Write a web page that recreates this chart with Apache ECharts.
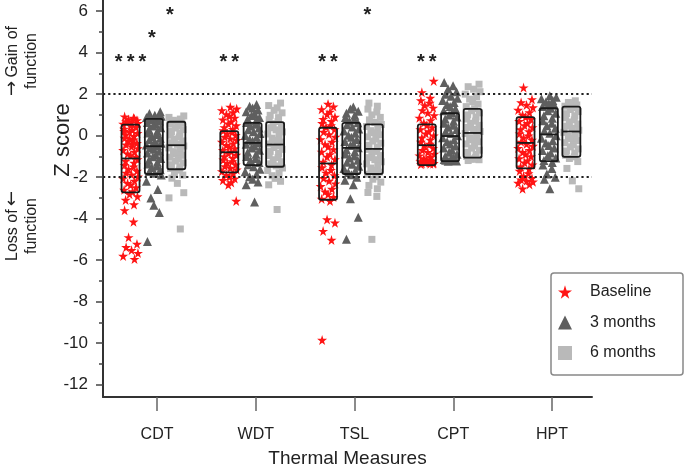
<!DOCTYPE html>
<html>
<head>
<meta charset="utf-8">
<script src="https://cdn.jsdelivr.net/npm/echarts@6/dist/echarts.min.js"></script>
<style>
html,body{margin:0;padding:0;background:#fff;}
#chart{width:685px;height:473px;}
</style>
</head>
<body>
<div id="chart"></div>
<script>
// ---------- data ----------
const categories = ['CDT', 'WDT', 'TSL', 'CPT', 'HPT'];
const groupNames = ['Baseline', '3 months', '6 months'];
const yTickLabels = [-12, -10, -8, -6, -4, -2, 0, 2, 4, 6];
const yMinorTicks = [-11, -9, -7, -5, -3, -1, 1, 3, 5];
const thresholdLines = [2, -2];

// individual Z scores
const cdtBaseline = [0.92, 0.85, 0.78, 0.74, 0.69, 0.63, 0.6, 0.57, 0.81, 0.66,
  0.48, 0.41, 0.33, 0.27, 0.18, 0.12, 0.04, -0.03, -0.11, -0.19, -0.27, -0.36, -0.44, -0.52, -0.61, -0.7, -0.78, -0.87, -0.95, -1.03, 0.22, -0.4, -0.15,
  -1.14, -1.22, -1.31, -1.42, -1.5, -1.61, -1.7, -1.79, -1.88, -1.98, -2.07, -2.18, -2.29, -2.38, -2.5, -2.61, -2.69,
  -2.82, -2.93, -3.1, -3.32, -3.6, -4.15, -4.9, -5.22, -5.38, -5.52, -5.66, -5.8, -5.95];
const cdtMonth3 = [1.15, 1.07, 0.98, 0.93, 0.88, 0.84, 0.82, 0.78, 0.71, 0.64, 0.55, 0.47, 0.38, 0.3, 0.21, 0.13, 0.05, -0.04, -0.12, -0.2, -0.28, -0.37, -0.45, -0.5, -0.58, -0.66, -0.75, -0.84, -0.93, -1.02, -1.1, -1.19, -1.28, -1.37, -1.46, -1.55, -1.64, -1.73, -1.81, -1.9, -2.2, -2.6, -3.0, -3.35, -3.7, -5.1];
const cdtMonth6 = [0.95, 0.88, 0.8, 0.74, 0.69, 0.62, 0.55, 0.46, 0.37, 0.29, 0.2, 0.11, 0.02, -0.07, -0.16, -0.25, -0.34, -0.42, -0.5, -0.59, -0.68, -0.77, -0.86, -0.95, -1.04, -1.13, -1.22, -1.31, -1.4, -1.5, -1.58, -1.66, -1.78, -1.9, -2.05, -2.3, -2.75, -3.0, -4.5];

const wdtBaseline = [1.38, 1.3, 1.22, 1.12, 1.03, 0.95, 0.86, 0.77, 0.68, 0.58, 0.49, 0.4, 0.31, 0.25,
  0.17, 0.1, 0.02, -0.06, -0.14, -0.22, -0.3, -0.38, -0.46, -0.54, -0.62, -0.7, -0.77,
  -0.85, -0.93, -1.0, -1.08, -1.16, -1.24, -1.32, -1.4, -1.48, -1.56, -1.64, -1.72,
  -1.82, -1.9, -1.98, -2.07, -2.15, -2.26, -2.37, -3.15];
const wdtMonth3 = [1.5, 1.42, 1.33, 1.24, 1.15, 1.06, 0.97, 0.88, 0.8, 0.72, 0.64, 0.55, 0.46, 0.37, 0.28, 0.19, 0.1, 0.01, -0.08, -0.17, -0.26, -0.34, -0.42, -0.5, -0.6, -0.7, -0.8, -0.9, -1.0, -1.1, -1.2, -1.3, -1.4, -1.5, -1.62, -1.74, -1.86, -1.98, -2.1, -2.24, -2.37, -3.2];
const wdtMonth6 = [1.57, 1.45, 1.34, 1.22, 1.1, 0.98, 0.87, 0.77, 0.68, 0.58, 0.48, 0.38, 0.28, 0.18, 0.08, -0.02, -0.12, -0.22, -0.31, -0.4, -0.48, -0.57, -0.66, -0.76, -0.86, -0.96, -1.06, -1.16, -1.26, -1.36, -1.46, -1.56, -1.68, -1.8, -1.93, -2.06, -2.2, -2.37, -3.56];

const tslBaseline = [1.53, 1.4, 1.27, 1.15, 1.03, 0.9, 0.8, 0.7, 0.6, 0.5, 0.42,
  0.3, 0.18, 0.06, -0.06, -0.18, -0.3, -0.42, -0.54, -0.66, -0.78, -0.9, -1.02, -1.14, -1.26,
  -1.4, -1.53, -1.66, -1.79, -1.92, -2.05, -2.18, -2.31, -2.44, -2.57, -2.7, -2.83, -2.96, -3.05,
  -3.15, -4.04, -4.2, -4.6, -5.03, -9.85];
const tslMonth3 = [1.38, 1.28, 1.18, 1.08, 0.98, 0.88, 0.79, 0.7, 0.62, 0.52, 0.42, 0.32, 0.22, 0.12, 0.02, -0.08, -0.18, -0.28, -0.38, -0.48, -0.58, -0.68, -0.78, -0.88, -0.98, -1.08, -1.18, -1.28, -1.38, -1.48, -1.58, -1.68, -1.78, -1.88, -2.0, -2.15, -2.37, -3.04, -3.93, -5.0];
const tslMonth6 = [1.57, 1.42, 1.28, 1.14, 1.0, 0.88, 0.76, 0.64, 0.54, 0.44, 0.34, 0.24, 0.14, 0.04, -0.06, -0.16, -0.26, -0.36, -0.46, -0.56, -0.66, -0.76, -0.86, -0.96, -1.06, -1.16, -1.26, -1.36, -1.46, -1.56, -1.66, -1.76, -1.86, -1.98, -2.1, -2.24, -2.4, -2.56, -2.74, -2.93, -5.0];

const cptBaseline = [2.64, 2.09, 1.82, 1.7, 1.58, 1.46, 1.34, 1.22, 1.1, 0.98, 0.86, 0.74, 0.62, 0.5, 0.4, 0.3, 0.2, 0.1, 0.0, -0.1, -0.2, -0.3, -0.4, -0.5, -0.6, -0.7, -0.8, -0.88, -0.96, -1.04, -1.1, -1.16, -1.2, -1.24, -1.28, -1.3, -1.32, -1.34, -1.36, -1.38, -1.3, -1.26, -1.35];
const cptMonth3 = [2.56, 2.4, 2.25, 2.12, 2.0, 1.9, 1.8, 1.7, 1.6, 1.5, 1.4, 1.3, 1.2, 1.1, 1.0, 0.9, 0.8, 0.7, 0.6, 0.5, 0.4, 0.3, 0.2, 0.1, 0.0, -0.1, -0.2, -0.3, -0.4, -0.5, -0.6, -0.7, -0.8, -0.9, -1.0, -1.08, -1.15, -1.2, -1.24, -1.22, -1.18, -1.1];
const cptMonth6 = [2.48, 2.36, 2.24, 2.12, 2.0, 1.88, 1.76, 1.64, 1.52, 1.4, 1.3, 1.2, 1.1, 1.0, 0.9, 0.8, 0.7, 0.6, 0.5, 0.4, 0.3, 0.2, 0.1, 0.0, -0.1, -0.2, -0.3, -0.4, -0.5, -0.6, -0.7, -0.8, -0.9, -1.0, -1.06, -1.12, -1.16, -1.2, -1.14];

const hptBaseline = [2.32, 1.75, 1.6, 1.48, 1.36, 1.24, 1.12, 1.0, 0.9, 0.8, 0.7, 0.6, 0.5, 0.4, 0.3, 0.2, 0.1, 0.0, -0.1, -0.2, -0.3, -0.4, -0.5, -0.6, -0.7, -0.8, -0.9, -1.0, -1.1, -1.2, -1.3, -1.4, -1.5, -1.6, -1.7, -1.82, -1.95, -2.05, -2.12, -2.18, -2.22, -2.28, -2.35, -2.56];
const hptMonth3 = [1.92, 1.85, 1.78, 1.7, 1.62, 1.55, 1.48, 1.4, 1.32, 1.2, 1.08, 0.96, 0.84, 0.72, 0.6, 0.48, 0.36, 0.24, 0.12, 0.0, -0.12, -0.24, -0.36, -0.48, -0.6, -0.72, -0.84, -0.96, -1.08, -1.2, -1.3, -1.42, -1.58, -1.85, -2.0, -2.1, -2.56];
const hptMonth6 = [1.68, 1.6, 1.54, 1.48, 1.42, 1.35, 1.26, 1.16, 1.06, 0.96, 0.86, 0.76, 0.66, 0.56, 0.46, 0.36, 0.26, 0.16, 0.06, -0.04, -0.14, -0.24, -0.34, -0.44, -0.54, -0.64, -0.74, -0.84, -0.94, -1.02, -1.1, -1.25, -1.58, -2.18, -2.56];

// box statistics per category (upper edge, median, lower edge)
const baselineUpper = [0.53, 0.22, 0.38, 0.54, 0.89];
const baselineMedian = [-1.1, -0.8, -1.34, -0.46, -0.35];
const baselineLower = [-2.73, -1.77, -3.09, -1.42, -1.58];
const month3Upper = [0.81, 0.62, 0.62, 1.08, 1.32];
const month3Median = [-0.51, -0.35, -0.59, -0.02, 0.06];
const month3Lower = [-1.85, -1.42, -1.85, -1.23, -1.23];
const month6Upper = [0.67, 0.65, 0.54, 1.29, 1.4];
const month6Median = [-0.46, -0.43, -0.64, 0.13, 0.2];
const month6Lower = [-1.62, -1.5, -1.85, -1.06, -1.02];

// significance annotations
const annCategory = [0, 0, 0, 1, 2, 2, 3];
const annGroup = [0, 1, 2, 0, 0, 2, 0];
const annY = [3.72, 4.9, 6.0, 3.72, 3.72, 6.0, 3.72];
const annText = ['***', '*', '*', '**', '**', '*', '**'];

// ---------- layout / style ----------
const FONT = '"Liberation Sans", Arial, Helvetica, sans-serif';
const groupOffset = [-0.268, -0.032, 0.196];
const annShift = [0.0, -0.02, -0.066];
const boxHalf = 0.091;
const jitter = [-0.06, 0.03, -0.02, 0.065, -0.045, 0.01, 0.075, -0.075, 0.04, -0.03, 0.0, 0.055, -0.065, 0.02, -0.01, 0.07, -0.05, 0.035];
const colors = ['#ff1414', '#5f5f5f', '#b9b9b9'];
const STAR = 'path://M50,0 L61,35 L98,35 L68,57 L79,91 L50,70 L21,91 L32,57 L2,35 L39,35 Z';
const symbols = [STAR, 'triangle', 'rect'];
const symbolSizes = [10, 9, 7];

const groupValues = [
  [cdtBaseline, wdtBaseline, tslBaseline, cptBaseline, hptBaseline],
  [cdtMonth3, wdtMonth3, tslMonth3, cptMonth3, hptMonth3],
  [cdtMonth6, wdtMonth6, tslMonth6, cptMonth6, hptMonth6]
];
const boxStats = [
  [baselineLower, baselineMedian, baselineUpper],
  [month3Lower, month3Median, month3Upper],
  [month6Lower, month6Median, month6Upper]
];

const scatterSeries = groupNames.map((name, g) => {
  const data = [];
  groupValues[g].forEach((vals, i) => {
    vals.forEach((v, k) => {
      data.push([i + groupOffset[g] + jitter[(k + i * 5 + g * 3) % jitter.length], v]);
    });
  });
  const s = {
    name: name,
    type: 'scatter',
    data: data,
    symbol: symbols[g],
    symbolSize: symbolSizes[g],
    itemStyle: { color: colors[g], opacity: 1 },
    silent: true,
    z: 2
  };
  if (g === 0) {
    s.markLine = {
      silent: true,
      symbol: ['none', 'none'],
      label: { show: false },
      lineStyle: { color: '#222', type: [2.2, 3], width: 1.8 },
      data: thresholdLines.map(v => ({ yAxis: v }))
    };
  }
  return s;
});

const boxData = [];
boxStats.forEach((st, g) => {
  categories.forEach((c, i) => {
    boxData.push([i + groupOffset[g], st[0][i], st[1][i], st[2][i]]);
  });
});

const boxSeries = {
  type: 'custom',
  name: 'boxes',
  data: boxData,
  z: 5,
  silent: true,
  encode: { x: 0, y: [1, 2, 3] },
  renderItem: function (params, api) {
    const x = api.value(0), lo = api.value(1), med = api.value(2), hi = api.value(3);
    const tl = api.coord([x - boxHalf, hi]);
    const br = api.coord([x + boxHalf, lo]);
    const m = api.coord([x, med]);
    return {
      type: 'group',
      children: [
        { type: 'rect', shape: { x: tl[0], y: tl[1], width: br[0] - tl[0], height: br[1] - tl[1], r: 2 },
          style: { fill: 'none', stroke: '#1a1a1a', lineWidth: 1.8 } },
        { type: 'line', shape: { x1: tl[0], y1: m[1], x2: br[0], y2: m[1] },
          style: { stroke: '#1a1a1a', lineWidth: 1.8 } }
      ]
    };
  }
};

const annData = annText.map((t, k) => [annCategory[k] + groupOffset[annGroup[k]] + annShift[annGroup[k]], annY[k], t]);
const annSeries = {
  type: 'custom',
  name: 'annotations',
  data: annData,
  z: 6,
  silent: true,
  encode: { x: 0, y: 1 },
  renderItem: function (params, api) {
    const p = api.coord([api.value(0), api.value(1)]);
    const t = annText[params.dataIndex].split('').join('\u2009');
    return {
      type: 'text',
      x: p[0], y: p[1] + 4,
      style: { text: t, fill: '#222', font: 'bold 20px ' + FONT, align: 'center', verticalAlign: 'middle' }
    };
  }
};

const arrowRich = {
  a: { fontFamily: '"DejaVu Sans", sans-serif', fontSize: 18, lineHeight: 19, fill: '#222' },
  t: { fontFamily: FONT, fontSize: 16, lineHeight: 19, fill: '#222' }
};

const chart = echarts.init(document.getElementById('chart'), null, { renderer: 'canvas' });
chart.setOption({
  animation: false,
  backgroundColor: '#fff',
  textStyle: { fontFamily: FONT },
  grid: { left: 103, right: 93, top: 0, bottom: 72, containLabel: false },
  xAxis: {
    type: 'value',
    min: -0.547,
    max: 4.405,
    name: 'Thermal Measures',
    nameLocation: 'middle',
    nameGap: 52,
    nameTextStyle: { fontSize: 19, color: '#222', fontFamily: FONT },
    splitLine: { show: false },
    axisLine: { onZero: false, lineStyle: { color: '#333', width: 2 } },
    axisTick: { customValues: [0, 1, 2, 3, 4], length: 14, lineStyle: { color: '#666', width: 1.5 } },
    axisLabel: {
      customValues: [0, 1, 2, 3, 4],
      formatter: v => categories[Math.round(v)],
      fontSize: 16, color: '#222', margin: 30, fontFamily: FONT
    }
  },
  yAxis: [{
    type: 'value',
    min: -12.6,
    max: 6.54,
    splitLine: { show: false },
    axisLine: { show: true, onZero: false, lineStyle: { color: '#333', width: 2 } },
    axisTick: { customValues: yTickLabels, length: 7, lineStyle: { color: '#444', width: 1.5 } },
    axisLabel: { customValues: yTickLabels, fontSize: 17, color: '#222', margin: 15, fontFamily: FONT }
  }, {
    type: 'value',
    position: 'left',
    min: -12.6,
    max: 6.54,
    splitLine: { show: false },
    axisLine: { show: false, onZero: false },
    axisTick: { show: true, customValues: yMinorTicks, length: 4, lineStyle: { color: '#444', width: 1.5 } },
    axisLabel: { show: false }
  }],
  legend: {
    data: groupNames.map((n, g) => ({ name: n, icon: symbols[g] })),
    orient: 'vertical',
    left: 558,
    top: 284,
    padding: 0,
    itemWidth: 14,
    itemHeight: 14,
    itemGap: 14.5,
    selectedMode: false,
    z: 10,
    textStyle: { fontSize: 16, color: '#222', lineHeight: 16, padding: [0, 0, 0, 13], fontFamily: FONT }
  },
  graphic: [
    { type: 'rect', z: 1, shape: { x: 551, y: 273, width: 132, height: 102, r: 3 },
      style: { fill: '#fff', stroke: '#888', lineWidth: 1.5 } },
    { type: 'text', x: 63, y: 140, rotation: Math.PI / 2,
      style: { text: 'Z score', font: '22px ' + FONT, fill: '#222', align: 'center', verticalAlign: 'middle' } },
    { type: 'text', x: 22, y: 61, rotation: Math.PI / 2,
      style: { text: '{a|\u2192} {t|Gain of}\n{t|function}', rich: arrowRich, align: 'center', verticalAlign: 'middle' } },
    { type: 'text', x: 22, y: 226, rotation: Math.PI / 2,
      style: { text: '{t|Loss of} {a|\u2190}\n{t|function}', rich: arrowRich, align: 'center', verticalAlign: 'middle' } }
  ],
  series: scatterSeries.concat([boxSeries, annSeries])
});
</script>
</body>
</html>
